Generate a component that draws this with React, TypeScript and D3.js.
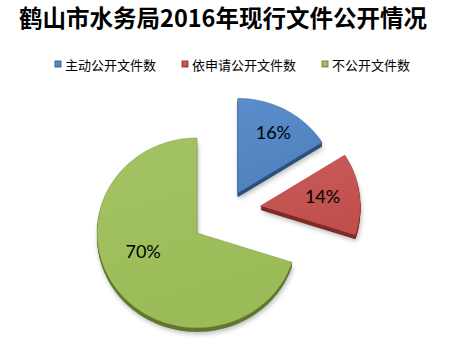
import React from 'react';
import * as d3 from 'd3';

const title = '鹤山市水务局2016年现行文件公开情况';
const categories = ['主动公开文件数', '依申请公开文件数', '不公开文件数'];
const values = [16, 14, 70];
const percentLabels = ['16%', '14%', '70%'];

const colors = ['#4f81bd', '#c0504d', '#9bbb59'];
const lightColors = ['#5b8dcc', '#cb5b58', '#a4c463'];
const darkColors = ['#2c4f7c', '#7f2a28', '#5f772c'];
const explode = [19, 32, 39];
const labelShiftDeg = [0, -2, 17];
const labelFrac = [0.74, 0.63, 0.57];

const W = 458;
const H = 340;
const center = { x: 228.6, y: 210 };
const rx = 100;
const ry = 95;
const depth = 4;

const legendX = [55, 182, 322];
const legendY = 64;

function ellipsePoint(cx: number, cy: number, a: number, r = 1): [number, number] {
  return [cx + rx * r * Math.sin(a), cy - ry * r * Math.cos(a)];
}

function slicePoints(cx: number, cy: number, a0: number, a1: number): [number, number][] {
  const pts: [number, number][] = [[cx, cy]];
  const steps = Math.max(8, Math.ceil(((a1 - a0) * 180) / Math.PI / 2));
  for (let i = 0; i <= steps; i++) {
    const a = a0 + ((a1 - a0) * i) / steps;
    pts.push(ellipsePoint(cx, cy, a));
  }
  return pts;
}

export default function App() {
  const pie = d3
    .pie<number>()
    .sort(null)
    .startAngle(0)
    .endAngle(2 * Math.PI)(values);
  const line = d3.line().curve(d3.curveLinearClosed);

  const slices = pie.map((p, i) => {
    const mid = (p.startAngle + p.endAngle) / 2;
    const cx = center.x + explode[i] * Math.sin(mid);
    const cy = center.y - explode[i] * Math.cos(mid);
    const d = line(slicePoints(cx, cy, p.startAngle, p.endAngle)) || '';
    const la = mid + (labelShiftDeg[i] * Math.PI) / 180;
    const [lx, ly] = ellipsePoint(cx, cy, la, labelFrac[i]);
    return { i, d, lx, ly };
  });

  return (
    <svg
      width={W}
      height={H}
      style={{ position: 'absolute', left: 0, top: 0, background: '#fff' }}
      fontFamily="'Noto Sans CJK SC', sans-serif"
    >
      <defs>
        <filter id="soft" x="-20%" y="-20%" width="140%" height="140%">
          <feGaussianBlur stdDeviation="2.5" />
        </filter>
        {colors.map((c, i) => (
          <linearGradient key={i} id={`face${i}`} x1="0" y1="0" x2="0.3" y2="1">
            <stop offset="0" stopColor={lightColors[i]} />
            <stop offset="1" stopColor={c} />
          </linearGradient>
        ))}
        {colors.map((c, i) => (
          <linearGradient key={`m${i}`} id={`mark${i}`} x1="0" y1="0" x2="0" y2="1">
            <stop offset="0" stopColor={lightColors[i]} />
            <stop offset="1" stopColor={c} />
          </linearGradient>
        ))}
      </defs>

      <text
        x={223}
        y={27}
        textAnchor="middle"
        fontSize={23.5}
        fontWeight="bold"
        fill="#000"
      >
        {title}
      </text>

      {categories.map((name, i) => (
        <g key={name}>
          <rect
            x={legendX[i]}
            y={legendY - 3}
            width={6}
            height={6}
            fill={`url(#mark${i})`}
            stroke={darkColors[i]}
            strokeWidth={0.8}
          />
          <text
            x={legendX[i] + 10}
            y={legendY}
            dominantBaseline="central"
            fontSize={13}
            fill="#000"
          >
            {name}
          </text>
        </g>
      ))}

      {/* soft drop shadows */}
      {slices.map((s) => (
        <path
          key={`sh${s.i}`}
          d={s.d}
          transform={`translate(1,${depth + 2})`}
          fill="#000"
          opacity={0.28}
          filter="url(#soft)"
        />
      ))}

      {/* side walls */}
      {slices.map((s) => (
        <g key={`side${s.i}`}>
          {d3.range(1, depth + 1).map((k) => (
            <path key={k} d={s.d} transform={`translate(0,${k})`} fill={darkColors[s.i]} />
          ))}
        </g>
      ))}

      {/* top faces */}
      {slices.map((s) => (
        <path
          key={`top${s.i}`}
          d={s.d}
          fill={`url(#face${s.i})`}
          stroke={darkColors[s.i]}
          strokeOpacity={0.35}
          strokeWidth={1}
          strokeLinejoin="round"
        />
      ))}

      {slices.map((s) => (
        <text
          key={`lab${s.i}`}
          x={s.lx}
          y={s.ly}
          textAnchor="middle"
          dominantBaseline="central"
          fontFamily="Lato, 'Open Sans', sans-serif"
          fontSize={18}
          fill="#000"
        >
          {percentLabels[s.i]}
        </text>
      ))}
    </svg>
  );
}
